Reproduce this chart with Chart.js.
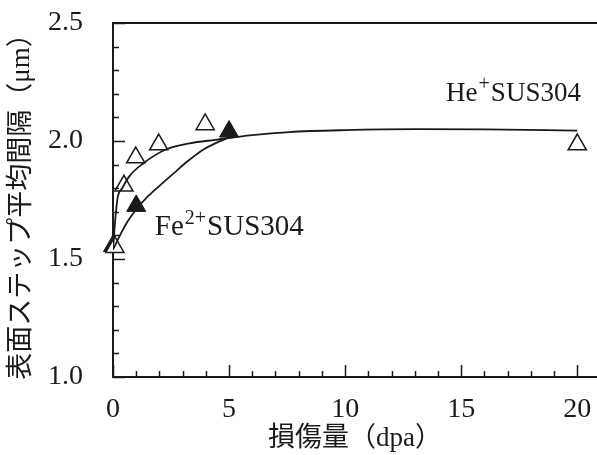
<!DOCTYPE html>
<html>
<head>
<meta charset="utf-8">
<script src="https://cdn.jsdelivr.net/npm/chart.js@4"></script>
<style>
  html, body { margin: 0; padding: 0; background: #fff; }
  canvas { display: block; }
</style>
</head>
<body>
<canvas id="chart" width="597" height="455"></canvas>
<script>
// measured points
const heX = [0.08, 0.47, 0.98, 1.97, 3.97, 20];
const heY = [1.55, 1.81, 1.93, 1.985, 2.07, 1.985];
const feX = [0, 1, 5];
const feY = [1.555, 1.725, 2.04];

// fitted curves
const heFitX = [0, 0.1, 0.2, 0.4, 0.7, 1.3, 2.3, 3.3, 4.4, 6, 7.6, 10, 13, 16, 20];
const heFitY = [1.54, 1.67, 1.76, 1.80, 1.85, 1.905, 1.965, 1.99, 2.005, 2.025, 2.038, 2.046, 2.05, 2.049, 2.044];
const feFitX = [0, 0.3, 0.6, 1, 1.5, 2, 2.6, 3.2, 3.8, 4.4, 5];
const feFitY = [1.54, 1.60, 1.655, 1.71, 1.765, 1.81, 1.862, 1.913, 1.958, 1.99, 2.015];

const xTickLabels = [0, 5, 10, 15, 20];
const yTickLabels = [1.0, 1.5, 2.0, 2.5];

const xTitle = "損傷量（dpa）";
const yTitle = "表面ステップ平均間隔（μm）";

const serif = "'Liberation Serif', 'Noto Sans CJK JP', serif";
const ink = "#1a1a1a";

function pts(xs, ys) {
  return xs.map((x, i) => ({ x: x, y: ys[i] }));
}

function isLabelled(v, list) {
  return list.some(t => Math.abs(t - v) < 1e-6);
}

// tick marks pointing inwards, plus the top frame line
const frame = {
  id: "frame",
  afterDraw(chart) {
    const ctx = chart.ctx;
    const a = chart.chartArea;
    const xs = chart.scales.x;
    const ys = chart.scales.y;
    ctx.save();
    ctx.strokeStyle = ink;
    ctx.lineWidth = 1.5;
    ctx.beginPath();
    xs.ticks.forEach(t => {
      const px = Math.round(xs.getPixelForValue(t.value)) + 0.5;
      const len = isLabelled(t.value, xTickLabels) ? 12 : 6;
      ctx.moveTo(px, a.bottom);
      ctx.lineTo(px, a.bottom - len);
    });
    ys.ticks.forEach(t => {
      const py = Math.round(ys.getPixelForValue(t.value)) + 0.5;
      const len = isLabelled(t.value, yTickLabels) ? 12 : 6;
      ctx.moveTo(a.left, py);
      ctx.lineTo(a.left + len, py);
    });
    ctx.stroke();
    ctx.lineWidth = 2;
    ctx.beginPath();
    ctx.moveTo(a.left, a.top);
    ctx.lineTo(chart.width, a.top);
    ctx.stroke();
    ctx.restore();
  }
};

// series labels with superscripts
const notes = [
  { base: "He", sup: "+", rest: "SUS304", x: 14.35, y: 2.17, size: 27 },
  { base: "Fe", sup: "2+", rest: "SUS304", x: 1.8, y: 1.6, size: 29 }
];

const labels = {
  id: "labels",
  afterDatasetsDraw(chart) {
    const ctx = chart.ctx;
    const xs = chart.scales.x;
    const ys = chart.scales.y;
    ctx.save();
    ctx.fillStyle = ink;
    ctx.textBaseline = "alphabetic";
    notes.forEach(n => {
      let px = xs.getPixelForValue(n.x);
      const py = ys.getPixelForValue(n.y);
      ctx.font = n.size + "px " + serif;
      ctx.fillText(n.base, px, py);
      px += ctx.measureText(n.base).width + 1;
      ctx.font = "20px " + serif;
      ctx.fillText(n.sup, px, py - 11);
      px += ctx.measureText(n.sup).width + 1;
      ctx.font = n.size + "px " + serif;
      ctx.fillText(n.rest, px, py);
    });
    ctx.restore();
  }
};

new Chart(document.getElementById("chart"), {
  type: "scatter",
  data: {
    datasets: [
      {
        type: "line",
        data: pts(heFitX, heFitY),
        borderColor: ink,
        borderWidth: 1.8,
        pointRadius: 0,
        cubicInterpolationMode: "monotone",
        fill: false
      },
      {
        type: "line",
        data: pts(feFitX, feFitY),
        borderColor: ink,
        borderWidth: 1.8,
        pointRadius: 0,
        cubicInterpolationMode: "monotone",
        fill: false
      },
      {
        data: pts(heX, heY),
        clip: false,
        pointStyle: "triangle",
        pointRadius: 10.5,
        pointBackgroundColor: "#fff",
        pointBorderColor: ink,
        pointBorderWidth: 1.5
      },
      {
        data: pts(feX, feY),
        clip: false,
        pointStyle: "triangle",
        pointRadius: 11,
        pointBackgroundColor: ink,
        pointBorderColor: ink,
        pointBorderWidth: 1
      }
    ]
  },
  options: {
    responsive: false,
    animation: false,
    devicePixelRatio: 1,
    layout: { autoPadding: false, padding: { top: 23, right: 0, left: 0, bottom: 0 } },
    plugins: {
      legend: { display: false },
      tooltip: { enabled: false }
    },
    scales: {
      x: {
        type: "linear",
        min: 0,
        max: 20.85,
        afterFit(s) { s.height = 78; s.paddingLeft = 0; s.paddingRight = 0; },
        border: { display: true, color: ink, width: 2 },
        grid: { drawOnChartArea: false, drawTicks: false },
        ticks: {
          stepSize: 1,
          includeBounds: false,
          autoSkip: false,
          maxRotation: 0,
          padding: 16,
          color: ink,
          font: { family: serif, size: 28 },
          callback: v => isLabelled(v, xTickLabels) ? String(Math.round(v)) : ""
        },
        title: {
          display: true,
          text: xTitle,
          color: ink,
          font: { family: serif, size: 27 },
          padding: { top: 2, bottom: 0 }
        }
      },
      y: {
        type: "linear",
        min: 1.0,
        max: 2.5,
        afterFit(s) { s.width = 113; s.paddingTop = 0; s.paddingBottom = 0; },
        border: { display: true, color: ink, width: 2 },
        grid: { drawOnChartArea: false, drawTicks: false },
        ticks: {
          stepSize: 0.1,
          autoSkip: false,
          padding: 30,
          color: ink,
          font: { family: serif, size: 28 },
          callback: v => isLabelled(v, yTickLabels) ? v.toFixed(1) : ""
        },
        title: {
          display: true,
          text: yTitle,
          color: ink,
          font: { family: serif, size: 27 },
          padding: { top: 6, bottom: 0 }
        }
      }
    }
  },
  plugins: [frame, labels]
});
</script>
</body>
</html>
